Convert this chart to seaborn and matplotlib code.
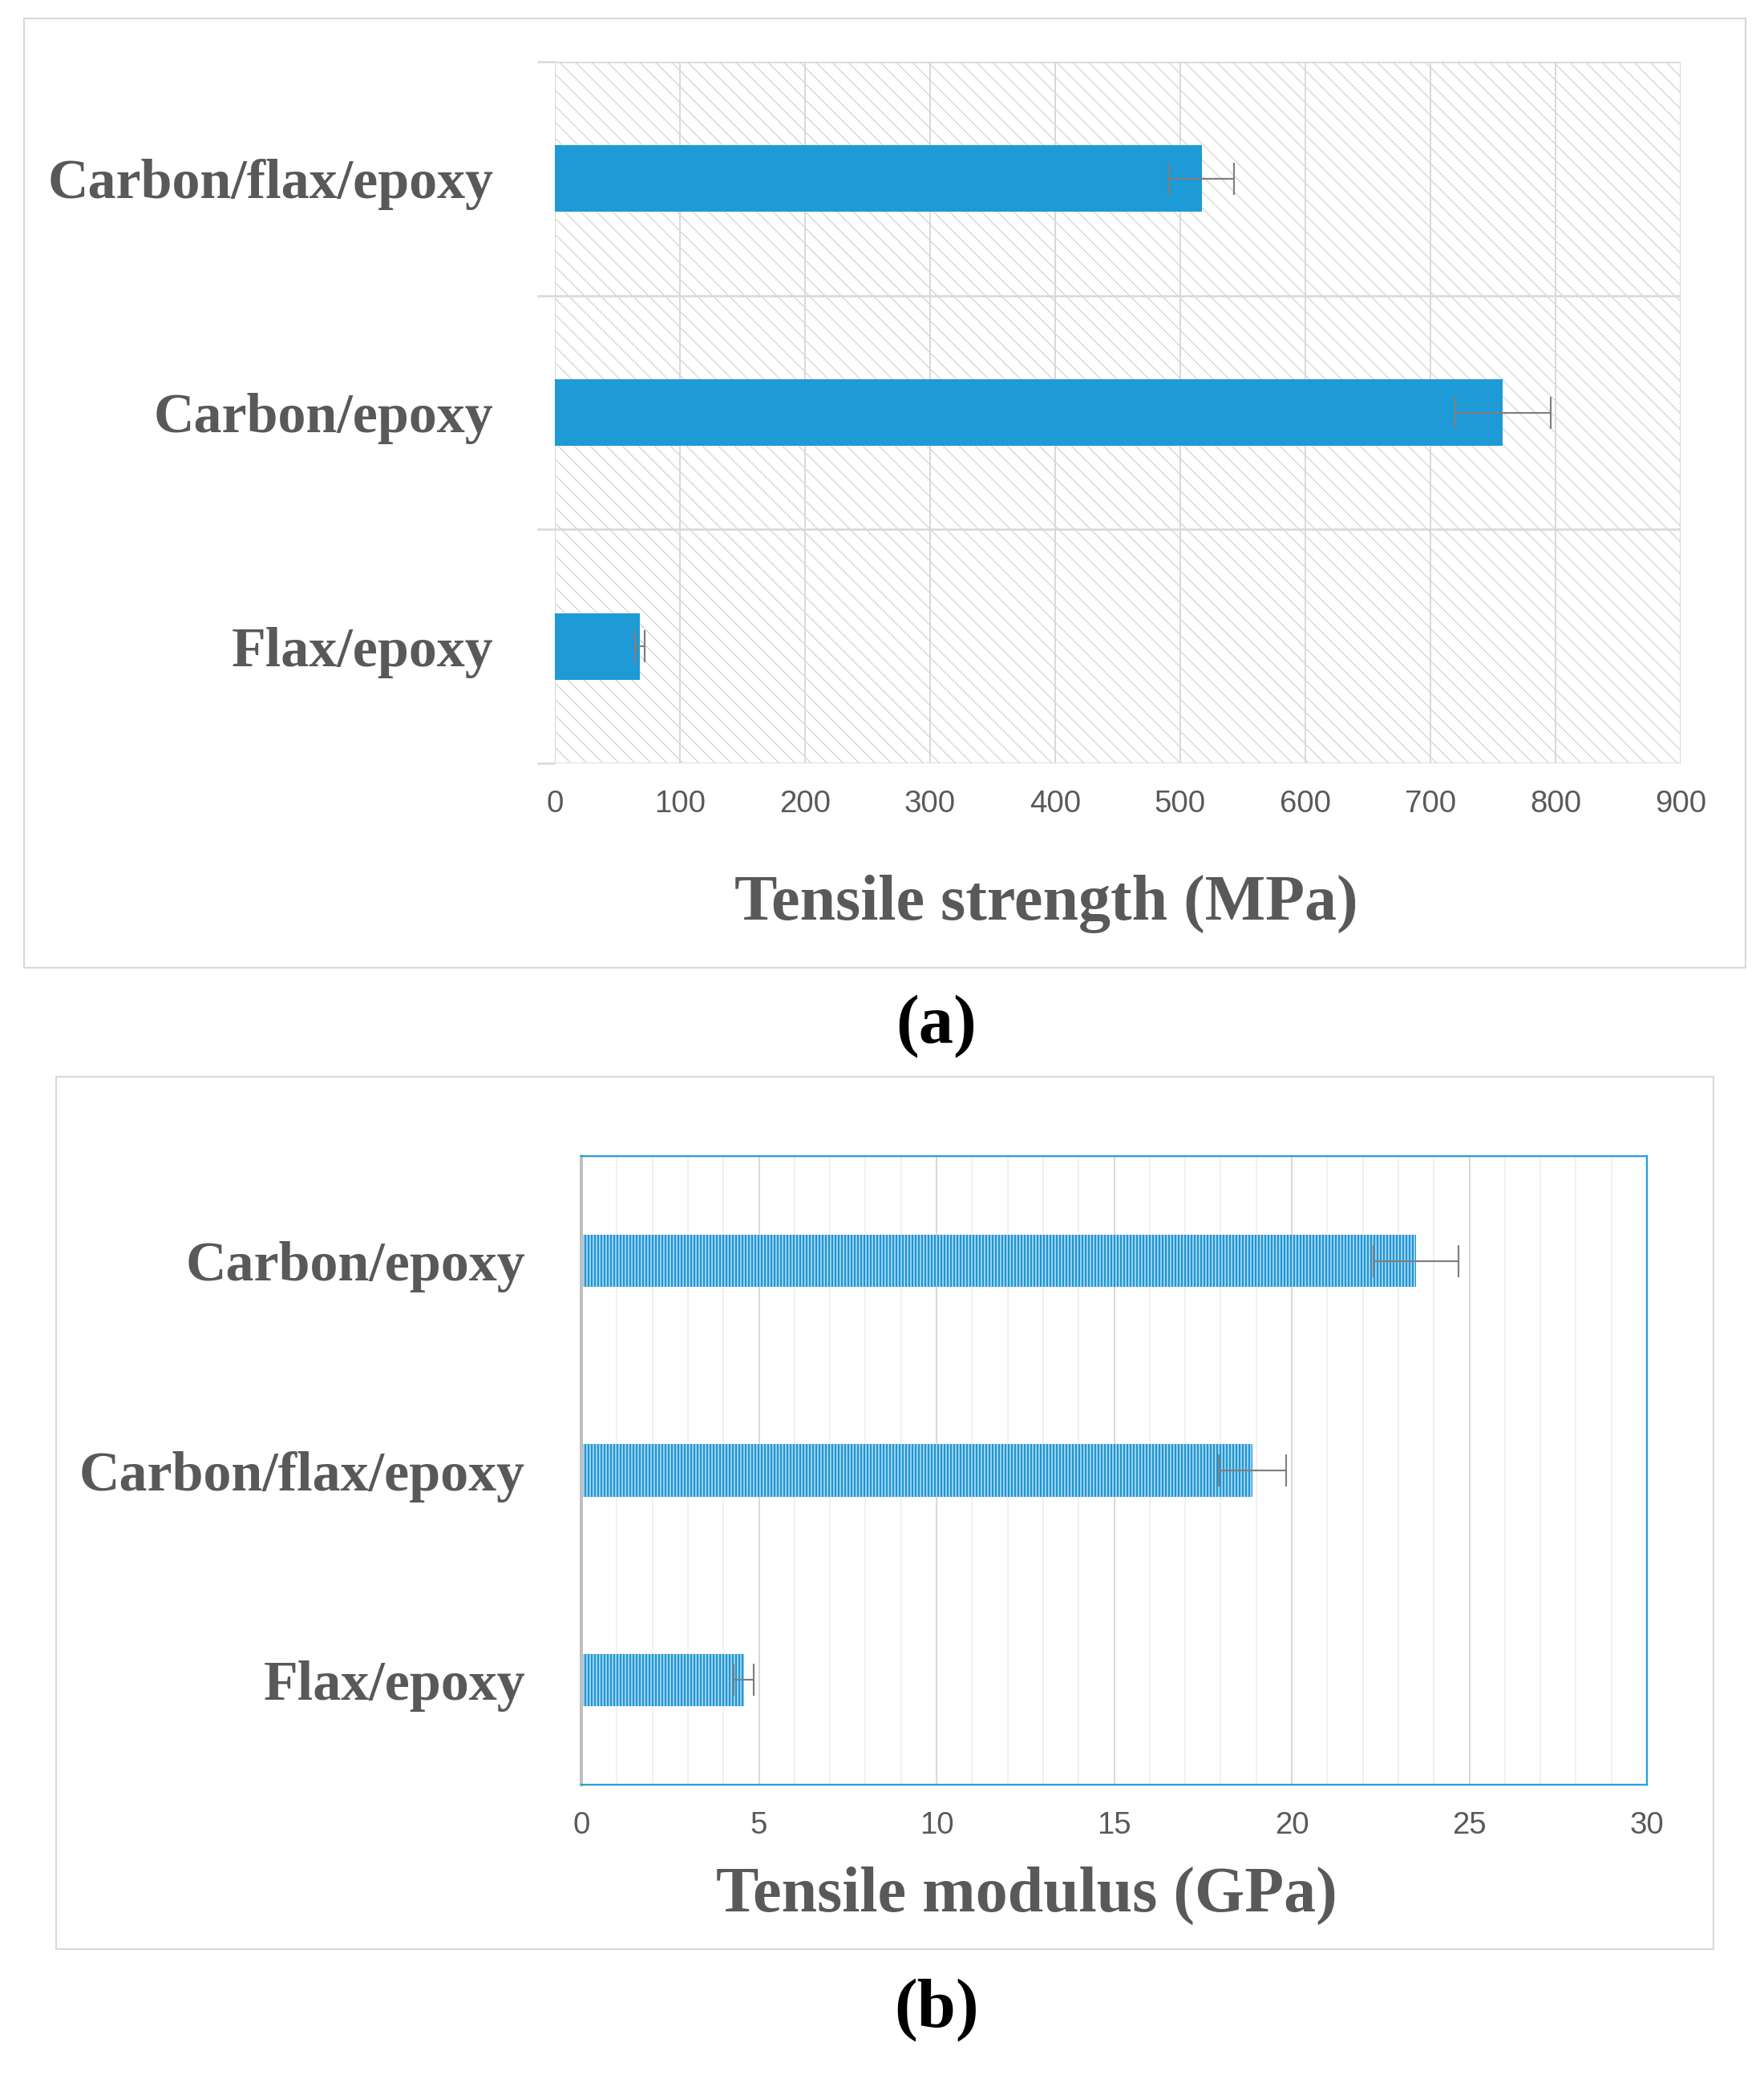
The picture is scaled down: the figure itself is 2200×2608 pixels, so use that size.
import matplotlib
matplotlib.use("Agg")
import matplotlib.pyplot as plt
import seaborn as sns
import pandas as pd
from matplotlib.patches import Rectangle
from matplotlib.ticker import MultipleLocator, FixedLocator

# ---- data ----
cats_a = ["Carbon/flax/epoxy", "Carbon/epoxy", "Flax/epoxy"]
strength = [517, 758, 68]
strength_err = [26, 38, 4]

cats_b = ["Carbon/epoxy", "Carbon/flax/epoxy", "Flax/epoxy"]
modulus = [23.5, 18.9, 4.58]
modulus_err = [1.2, 0.95, 0.28]

xticks_a = [0, 100, 200, 300, 400, 500, 600, 700, 800, 900]
xticks_b = [0, 5, 10, 15, 20, 25, 30]

xlabel_a = "Tensile strength (MPa)"
xlabel_b = "Tensile modulus (GPa)"

sns.set_theme(style="white")
plt.rcParams["font.family"] = ["Liberation Serif", "DejaVu Serif"]

W, H, DPI = 2200, 2608, 120
fig = plt.figure(figsize=(W / DPI, H / DPI), dpi=DPI)
fig.patch.set_facecolor("white")

TXT = "#595959"
GRID = "#d9d9d9"
BAR = "#1e9ad6"
TICKFONT = ["Liberation Sans Narrow", "Liberation Sans", "DejaVu Sans"]
CATSIZE = 42

def fx(px):
    return px / W

def fy(py):
    return 1 - py / H

# panel frames
for (x0, y0, x1, y1) in [(30, 23, 2177, 1207), (70, 1343, 2137, 2431)]:
    fig.patches.append(Rectangle((fx(x0), fy(y1)), fx(x1) - fx(x0), fy(y0) - fy(y1),
                                 transform=fig.transFigure, facecolor="none",
                                 edgecolor=GRID, linewidth=1.3, zorder=0))

# ---------------- panel (a) ----------------
ax1 = fig.add_axes([fx(692), fy(952), fx(2096) - fx(692), fy(77) - fy(952)])
df_a = pd.DataFrame({"cat": cats_a, "val": strength})
sns.barplot(data=df_a, x="val", y="cat", orient="h", color=BAR, width=0.285,
            saturation=1, linewidth=0, errorbar=None, ax=ax1)
ax1.errorbar(strength, range(len(cats_a)), xerr=strength_err, fmt="none",
             ecolor="#7f7f7f", elinewidth=1.3, capsize=12, capthick=1.3, zorder=5)
plt.rcParams["hatch.linewidth"] = 0.7
bg = Rectangle((0, 0), 1, 1, transform=ax1.transAxes, facecolor="none",
               edgecolor="#d0d0d0", hatch="\\\\", linewidth=0, zorder=0.1)
ax1.add_patch(bg)
ax1.set_xlim(0, 900)
ax1.set_ylim(2.5, -0.5)
ax1.set_xticks(xticks_a)
ax1.set_xticklabels([str(v) for v in xticks_a])
ax1.yaxis.set_minor_locator(FixedLocator([-0.5, 0.5, 1.5, 2.5]))
ax1.set_axisbelow(True)
ax1.grid(True, axis="x", which="major", color=GRID, linewidth=1.2)
ax1.grid(True, axis="y", which="minor", color=GRID, linewidth=1.6)
ax1.grid(False, axis="y", which="major")
for s in ax1.spines.values():
    s.set_visible(False)
ax1.tick_params(axis="x", which="major", length=0, pad=20, labelsize=23, labelcolor=TXT)
ax1.tick_params(axis="y", which="major", length=0, pad=46, labelsize=CATSIZE, labelcolor=TXT)
ax1.tick_params(axis="y", which="minor", length=13, width=1.6, color=GRID, left=True)
for t in ax1.get_xticklabels():
    t.set_family(TICKFONT)
for t in ax1.get_yticklabels():
    t.set_fontweight("bold")
ax1.set_ylabel("")
ax1.set_xlabel(xlabel_a, fontsize=48, fontweight="bold", color=TXT, va="center")
ax1.xaxis.set_label_coords((1305 - 692) / 1404, (952 - 1127) / 875)

fig.text(fx(1168), fy(1280), "(a)", ha="center", va="center", fontsize=52,
         fontweight="bold", color="black")

# ---------------- panel (b) ----------------
plt.rcParams["hatch.linewidth"] = 1.3
ax2 = fig.add_axes([fx(725), fy(2226), fx(2054) - fx(725), fy(1442) - fy(2226)])
df_b = pd.DataFrame({"cat": cats_b, "val": modulus})
sns.barplot(data=df_b, x="val", y="cat", orient="h", color="#a6d6f1", width=0.25,
            saturation=1, linewidth=0, edgecolor="#1f96d4", hatch="|||||",
            errorbar=None, ax=ax2)
ax2.errorbar(modulus, range(len(cats_b)), xerr=modulus_err, fmt="none",
             ecolor="#7f7f7f", elinewidth=1.3, capsize=12, capthick=1.3, zorder=5)
ax2.set_xlim(0, 30)
ax2.set_ylim(2.5, -0.5)
ax2.set_xticks(xticks_b)
ax2.set_xticklabels([str(v) for v in xticks_b])
ax2.xaxis.set_minor_locator(MultipleLocator(1))
ax2.set_axisbelow(True)
ax2.grid(True, axis="x", which="major", color=GRID, linewidth=1.2)
ax2.grid(True, axis="x", which="minor", color="#efefef", linewidth=1.0)
ax2.grid(False, axis="y")
for side in ["top", "right", "bottom"]:
    ax2.spines[side].set_color("#2a9fd8")
    ax2.spines[side].set_linewidth(1.4)
ax2.spines["left"].set_color("#bfbfbf")
ax2.spines["left"].set_linewidth(2.4)
ax2.tick_params(axis="x", which="both", length=0, pad=20, labelsize=23, labelcolor=TXT)
ax2.tick_params(axis="y", which="both", length=0, pad=42, labelsize=CATSIZE, labelcolor=TXT)
for t in ax2.get_xticklabels():
    t.set_family(TICKFONT)
for t in ax2.get_yticklabels():
    t.set_fontweight("bold")
ax2.set_ylabel("")
ax2.set_xlabel(xlabel_b, fontsize=48, fontweight="bold", color=TXT, va="center")
ax2.xaxis.set_label_coords((1280 - 725) / 1329, (2226 - 2364) / 784)

fig.text(fx(1168), fy(2507), "(b)", ha="center", va="center", fontsize=52,
         fontweight="bold", color="black")

fig.savefig("out.png", dpi=DPI, facecolor="white")
